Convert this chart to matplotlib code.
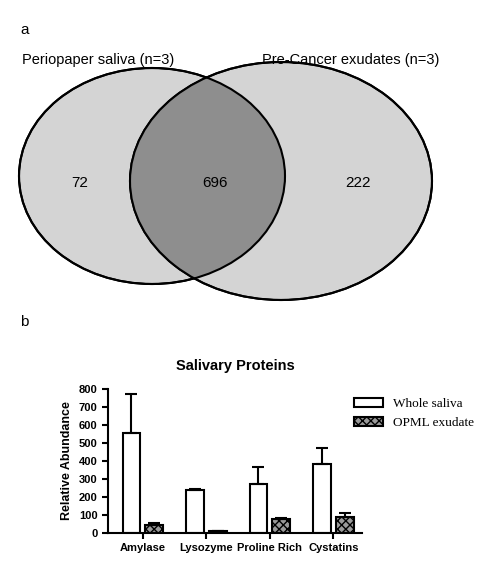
import matplotlib
matplotlib.use("Agg")
import matplotlib.pyplot as plt
from matplotlib.patches import Ellipse
import numpy as np

plt.rcParams['font.family'] = ['Liberation Sans', 'DejaVu Sans']

venn_labels = ["Periopaper saliva (n=3)", "Pre-Cancer exudates (n=3)"]
venn_counts = [72, 696, 222]
categories = ["Amylase", "Lysozyme", "Proline Rich", "Cystatins"]
whole = [555, 237, 272, 383]
whole_err = [220, 8, 95, 88]
opml = [42, 10, 80, 90]
opml_err = [12, 3, 5, 20]
series_names = ["Whole saliva", "OPML exudate"]

fig = plt.figure(figsize=(5.0, 5.86), dpi=100)
ax0 = fig.add_axes([0, 0, 1, 1])
ax0.set_xlim(0, 500); ax0.set_ylim(586, 0); ax0.axis("off")

e1 = Ellipse((152, 176), 266, 216, fc="#d4d4d4", ec="black", lw=1.5)
e2 = Ellipse((281, 181), 302, 238, fc="#d4d4d4", ec="black", lw=1.5)
ax0.add_patch(e1); ax0.add_patch(e2)
inter = Ellipse((281, 181), 302, 238, fc="#8e8e8e", ec="none")
ax0.add_patch(inter); inter.set_clip_path(e1)
ax0.add_patch(Ellipse((152, 176), 266, 216, fc="none", ec="black", lw=1.5))
ax0.add_patch(Ellipse((281, 181), 302, 238, fc="none", ec="black", lw=1.5))
ax0.text(20, 30, "a", fontsize=11, va="center")
ax0.text(20, 322, "b", fontsize=11, va="center")
ax0.text(22, 60, venn_labels[0], fontsize=10.5, va="center")
ax0.text(262, 60, venn_labels[1], fontsize=10.5, va="center")
ax0.text(80, 183, str(venn_counts[0]), fontsize=11, ha="center", va="center")
ax0.text(215, 183, str(venn_counts[1]), fontsize=11, ha="center", va="center")
ax0.text(358, 183, str(venn_counts[2]), fontsize=11, ha="center", va="center")

ax = fig.add_axes([108/500, 1-533/586, (362-108)/500, (533-389)/586])
x = np.arange(len(categories))
w = 0.28
ax.bar(x - 0.18, whole, w, yerr=[np.zeros(4), whole_err], color="white", edgecolor="black",
       lw=1.5, error_kw=dict(lw=1.5, capsize=4, capthick=1.5), label=series_names[0])
ax.bar(x + 0.18, opml, w, yerr=[np.zeros(4), opml_err], color="#9a9a9a", edgecolor="black",
       hatch="xxxx", lw=1.5, error_kw=dict(lw=1.5, capsize=4, capthick=1.5), label=series_names[1])
ax.set_ylim(0, 800)
ax.set_yticks(range(0, 801, 100))
ax.set_xlim(-0.55, 3.45)
ax.set_xticks(x)
ax.set_xticklabels(categories, fontweight="bold", fontsize=8)
for t in ax.get_yticklabels():
    t.set_fontweight("bold"); t.set_fontsize(8)
ax.set_ylabel("Relative Abundance", fontweight="bold", fontsize=9)
ax.spines["top"].set_visible(False); ax.spines["right"].set_visible(False)
for s in ["left", "bottom"]:
    ax.spines[s].set_linewidth(1.5)
ax.tick_params(width=1.5, length=4)
ax.set_title("Salivary Proteins", fontweight="bold", fontsize=10.5, pad=14)
ax.legend(loc="upper left", bbox_to_anchor=(0.92, 1.02), frameon=False,
          prop=dict(family="Liberation Serif", size=9.5), handlelength=2.2)
fig.savefig("out.png", dpi=100)
